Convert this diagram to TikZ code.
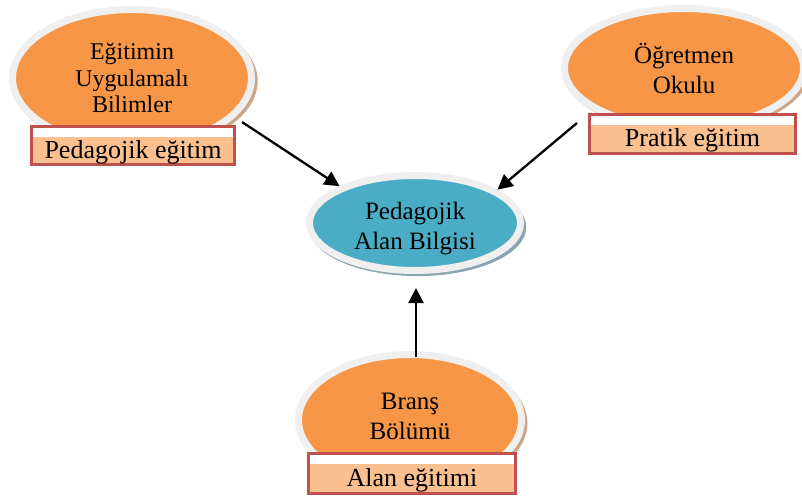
\documentclass[tikz,border=0pt]{standalone}
\usepackage{fontspec}
\setmainfont{Liberation Serif}
\usetikzlibrary{shapes.geometric,arrows.meta,shadows}
\definecolor{orng}{HTML}{F79646}
\definecolor{blu}{HTML}{4BACC6}
\definecolor{ringgray}{HTML}{EFEFEF}
\definecolor{tanshadow}{HTML}{CDA585}
\definecolor{blushadow}{HTML}{8AA5AE}
\definecolor{tagred}{HTML}{C0504D}
\definecolor{peach}{HTML}{FAC090}
\begin{document}
\begin{tikzpicture}[x=1pt,y=-1pt,
  ell/.style={ellipse, inner sep=0pt, draw=ringgray, line width=7pt,
    font=\fontsize{25}{30}\selectfont, align=center},
  orangeell/.style={ell, fill=orng,
    drop shadow={shadow xshift=2.5pt, shadow yshift=-3pt, shadow scale=1.03, fill=tanshadow, opacity=1}},
  blueell/.style={ell, fill=blu,
    drop shadow={shadow xshift=2.5pt, shadow yshift=-4pt, shadow scale=1.03, fill=blushadow, opacity=1}},
  tagbox/.style={rectangle, inner sep=0pt, draw=tagred, line width=3pt, fill=peach,
    font=\fontsize{26}{30}\selectfont,
    path picture={\fill[white] ([yshift=-10pt]path picture bounding box.north west)
      rectangle (path picture bounding box.north east);}},
  arr/.style={draw=black, line width=2.3pt, -{Triangle[length=15pt,width=15pt]}}
]
\useasboundingbox (0,0) rectangle (802,496);

% ellipses
\node[orangeell, minimum width=239pt, minimum height=137pt,
  font=\fontsize{24}{26.5}\selectfont] (L) at (132,78) {Eğitimin\\Uygulamalı\\Bilimler};
\node[orangeell, minimum width=239pt, minimum height=119pt] (R) at (684,68) {Öğretmen\\Okulu};
\node[orangeell, minimum width=223pt, minimum height=131pt] (B) at (410,420)
  {Branş\\Bölümü\rule[-8pt]{0pt}{0pt}};
\node[blueell, minimum width=211pt, minimum height=95pt] (C) at (415,223)
  {\rule{0pt}{29pt}Pedagojik\\Alan Bilgisi};

% tag boxes
\node[tagbox, minimum width=203pt, minimum height=38pt] (Lt) at (133,145.5)
  {\rule{0pt}{31pt}Pedagojik eğitim};
\node[tagbox, minimum width=206pt, minimum height=39pt] (Rt) at (692.5,134)
  {\rule{0pt}{31.5pt}Pratik eğitim};
\node[tagbox, minimum width=207pt, minimum height=40pt] (Bt) at (412,473.5)
  {\rule{0pt}{31.5pt}Alan eğitimi};

% arrows
\coordinate (a1) at (242,122);
\coordinate (a2) at (577,123);
\coordinate (a3) at (416,357);
\coordinate (a3e) at (416,288);
\draw[arr] (a1) -- (C.154);
\draw[arr] (a2) -- (C.22);
\draw[arr] (a3) -- (a3e);
\end{tikzpicture}
\end{document}
